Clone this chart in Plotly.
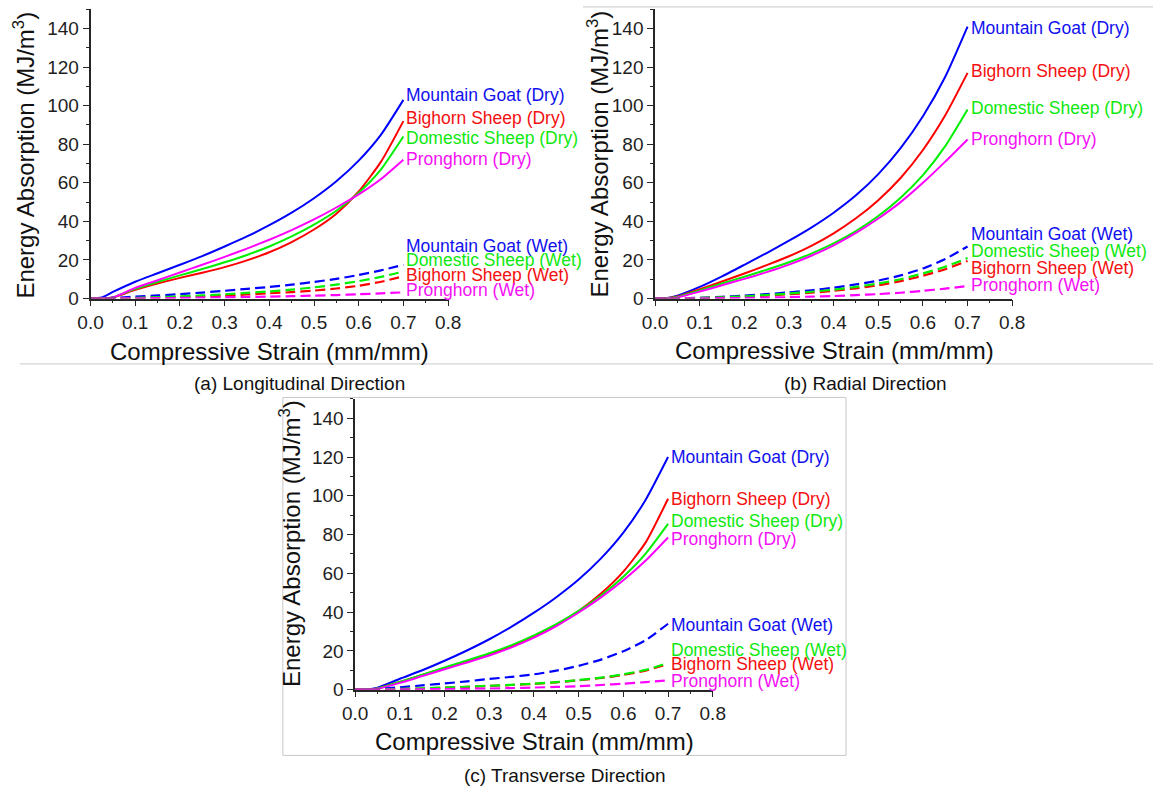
import plotly.graph_objects as go

W, H = 1166, 797

# ---------------- data ----------------
strain = [0, 0.025, 0.05, 0.1, 0.15, 0.2, 0.25, 0.3, 0.35, 0.4, 0.45, 0.5, 0.55, 0.6, 0.65, 0.7]

# (a) Longitudinal
a_mg_dry = [0, 0.5, 3.4, 8.7, 13.1, 17.5, 22, 27, 32.2, 38, 44.5, 52, 60.8, 71.5, 85, 103]
a_bs_dry = [0, 0, 0.5, 4.5, 7.8, 10.7, 13.4, 16.3, 19.8, 24, 29.3, 35.8, 44, 55.5, 71, 92]
a_ds_dry = [0, 0, 0.6, 5.0, 8.6, 12, 15.3, 18.8, 22.6, 27, 32.2, 38.3, 45.5, 54.8, 67, 84]
a_ph_dry = [0, 0, 0.5, 5.5, 9.5, 13.5, 17.5, 21.6, 25.9, 30.5, 35.5, 41, 47.2, 54, 62, 72]
a_mg_wet = [0, 0, 0.3, 1, 1.6, 2.3, 3.1, 4, 5, 6, 7.2, 8.6, 10.2, 12.2, 14.6, 17.5]
a_ds_wet = [0, 0, 0, 0.3, 0.7, 1.1, 1.6, 2.2, 2.9, 3.7, 4.6, 5.8, 7.2, 9, 11.2, 14]
a_bs_wet = [0, 0, 0, 0.2, 0.4, 0.7, 1.1, 1.5, 2.1, 2.7, 3.3, 4.1, 5.2, 6.6, 8.7, 11.5]
a_ph_wet = [0, 0, 0, 0.1, 0.2, 0.3, 0.45, 0.6, 0.8, 1, 1.2, 1.5, 1.8, 2.2, 2.7, 3.2]

# (b) Radial
b_mg_dry = [0, 0.2, 1.5, 6, 11.5, 17.5, 23.6, 30, 36.8, 44.5, 53.5, 64.5, 78, 94.5, 115, 141]
b_bs_dry = [0, 0.1, 1.0, 4.8, 8.8, 13, 17.3, 21.9, 27.3, 33.8, 41.6, 51, 62.5, 77, 95, 117]
b_ds_dry = [0, 0.1, 0.8, 4.2, 7.8, 11.3, 14.9, 18.8, 23.3, 28.6, 35, 42.8, 52.3, 64, 79, 98]
b_ph_dry = [0, 0, 0.6, 3.6, 6.9, 10.2, 13.7, 17.6, 22.2, 27.6, 34, 41.5, 50, 60, 71, 82.5]
b_mg_wet = [0, 0, 0.1, 0.4, 0.9, 1.5, 2.3, 3.2, 4.3, 5.6, 7.3, 9.3, 12, 15.6, 20.5, 27]
b_ds_wet = [0, 0, 0, 0.3, 0.6, 1.1, 1.8, 2.6, 3.5, 4.6, 6, 7.8, 10, 13, 16.5, 21]
b_bs_wet = [0, 0, 0, 0.2, 0.5, 0.9, 1.5, 2.2, 3, 4, 5.3, 6.9, 9, 11.8, 15.2, 19.5]
b_ph_wet = [0, 0, 0, 0.1, 0.2, 0.3, 0.5, 0.7, 1, 1.3, 1.8, 2.3, 3, 4, 5.1, 6.5]

# (c) Transverse
c_mg_dry = [0, 0.1, 1, 5.6, 10, 14.9, 20.2, 26, 32.5, 39.7, 47.7, 56.8, 67.7, 81, 98, 120]
c_bs_dry = [0, 0, 0.6, 4, 7.6, 11.1, 14.5, 18.1, 22.3, 27.3, 33.3, 40.6, 49.6, 60.9, 76, 98.5]
c_ds_dry = [0, 0, 0.6, 4, 7.7, 11.4, 15, 18.8, 23, 28, 33.8, 40.6, 48.6, 58.3, 70.2, 85.5]
c_ph_dry = [0, 0, 0.5, 3.5, 7, 10.5, 14, 17.6, 21.8, 26.8, 32.8, 39.8, 47.6, 56.4, 66.6, 78.5]
c_mg_wet = [0, 0, 0.3, 1.2, 2.2, 3.2, 4.3, 5.5, 6.6, 7.9, 9.8, 12.3, 15.5, 19.8, 25.5, 34]
c_ds_wet = [0, 0, 0, 0.4, 0.7, 1.1, 1.5, 2, 2.5, 3.1, 3.9, 5, 6.2, 7.9, 10.2, 13.8]
c_bs_wet = [0, 0, 0, 0.3, 0.6, 1, 1.4, 1.9, 2.4, 3, 3.8, 4.8, 6, 7.6, 9.8, 13.3]
c_ph_wet = [0, 0, 0, 0.1, 0.2, 0.3, 0.45, 0.6, 0.8, 1.1, 1.4, 1.8, 2.4, 3.1, 3.9, 4.8]

series_names = ["Mountain Goat", "Bighorn Sheep", "Domestic Sheep", "Pronghorn"]
x_ticks = [0.0, 0.1, 0.2, 0.3, 0.4, 0.5, 0.6, 0.7, 0.8]
y_ticks = [0, 20, 40, 60, 80, 100, 120, 140]
captions = ["(a) Longitudinal Direction", "(b) Radial Direction", "(c) Transverse Direction"]

# ---------------- styles / layout positions ----------------
colors = {"Mountain Goat": "#0000FF", "Bighorn Sheep": "#FF0000",
          "Domestic Sheep": "#00F000", "Pronghorn": "#FF00FF"}
label_colors = {"Mountain Goat": "#1010EE", "Bighorn Sheep": "#F41010",
                "Domestic Sheep": "#10E810", "Pronghorn": "#F410F4"}

panels = [
    dict(dry=[a_mg_dry, a_bs_dry, a_ds_dry, a_ph_dry],
         wet=[a_mg_wet, a_bs_wet, a_ds_wet, a_ph_wet],
         lab_dry=[105.7, 93.4, 83.2, 72.4], lab_wet=[27, 12.1, 19.8, 4.5],
         xpx=(79.3, 445), ypx=(302.7, 9.4),
         ytitle=(11, 157), xtitle=(262, 356), cap=(293, 389)),
    dict(dry=[b_mg_dry, b_bs_dry, b_ds_dry, b_ph_dry],
         wet=[b_mg_wet, b_bs_wet, b_ds_wet, b_ph_wet],
         lab_dry=[140.5, 118, 99, 82.5], lab_wet=[33.6, 15.7, 24.4, 7.0],
         xpx=(656.7, 1022), ypx=(302.7, 9.4),
         ytitle=(598, 156), xtitle=(840, 355), cap=(872, 389)),
    dict(dry=[c_mg_dry, c_bs_dry, c_ds_dry, c_ph_dry],
         wet=[c_mg_wet, c_bs_wet, c_ds_wet, c_ph_wet],
         lab_dry=[120.2, 98.5, 87, 77.7], lab_wet=[33.6, 13.2, 20.5, 4.7],
         xpx=(350, 715.7), ypx=(699.3, 404.5),
         ytitle=(284, 551), xtitle=(533, 752), cap=(565, 786)),
]

def px(x):
    return x / W

def py(y):
    return 1 - y / H

FONT = "Arial, Liberation Sans, sans-serif"
fig = go.Figure()
annotations = []
layout = {}

for i, p in enumerate(panels):
    n = "" if i == 0 else str(i + 1)
    xa, ya = "x" + n, "y" + n
    for k, name in enumerate(series_names):
        fig.add_trace(go.Scatter(x=strain, y=p["dry"][k], mode="lines", name=name + " (Dry)",
                                 line=dict(color=colors[name], width=2, shape="spline", smoothing=0.6),
                                 xaxis=xa, yaxis=ya, showlegend=False))
    for k, name in enumerate(series_names):
        fig.add_trace(go.Scatter(x=strain, y=p["wet"][k], mode="lines", name=name + " (Wet)",
                                 line=dict(color=colors[name], width=2.2, dash="10px,5px",
                                           shape="spline", smoothing=0.6),
                                 xaxis=xa, yaxis=ya, showlegend=False))
    for k, name in enumerate(series_names):
        for cond, ly in (("Dry", p["lab_dry"][k]), ("Wet", p["lab_wet"][k])):
            annotations.append(dict(x=strain[-1], y=ly, xref=xa, yref=ya,
                                    text=f"{name} ({cond})", showarrow=False,
                                    xanchor="left", yanchor="middle", xshift=1,
                                    font=dict(family=FONT, size=17.5, color=label_colors[name])))
    axcommon = dict(showline=True, linecolor="#262626", linewidth=1.6, ticks="outside",
                    ticklen=6, tickwidth=1.4, tickcolor="#262626", showgrid=False, zeroline=False,
                    tickfont=dict(family=FONT, size=19, color="#1e1e1e"))
    layout["xaxis" + n] = dict(axcommon, domain=[px(p["xpx"][0]), px(p["xpx"][1])],
                               range=[0, 0.8], tickvals=x_ticks, ticktext=[f"{v:.1f}" for v in x_ticks],
                               anchor=ya,
                               minor=dict(dtick=0.05, tick0=0, ticks="outside", ticklen=3,
                                          tickwidth=1.2, tickcolor="#262626"))
    layout["yaxis" + n] = dict(axcommon, domain=[py(p["ypx"][0]), py(p["ypx"][1])],
                               range=[0, 150], tickvals=y_ticks, anchor=xa,
                               minor=dict(dtick=10, tick0=0, ticks="outside", ticklen=3,
                                          tickwidth=1.2, tickcolor="#262626"))
    annotations.append(dict(x=px(p["ytitle"][0]), y=py(p["ytitle"][1]), xref="paper", yref="paper",
                            text="Energy Absorption (MJ/m<sup>3</sup>)", textangle=-90,
                            showarrow=False, xanchor="center", yanchor="middle",
                            font=dict(family=FONT, size=24, color="#111111")))
    annotations.append(dict(x=px(p["xtitle"][0]), y=py(p["xtitle"][1]), xref="paper", yref="paper",
                            text="Compressive Strain (mm/mm)", showarrow=False,
                            xanchor="center", yanchor="middle",
                            font=dict(family=FONT, size=24, color="#111111")))
    annotations.append(dict(x=px(p["cap"][0]), y=py(p["cap"][1]), xref="paper", yref="paper",
                            text=captions[i], showarrow=False, xanchor="center", yanchor="middle",
                            font=dict(family=FONT, size=19, color="#111111")))

border = dict(color="#c8c8c8", width=1)
shapes = [
    dict(type="line", xref="paper", yref="paper", x0=px(7), x1=px(1166), y0=py(369), y1=py(369), line=border),
    dict(type="line", xref="paper", yref="paper", x0=px(583), x1=px(1166), y0=py(7), y1=py(7), line=border),
    dict(type="rect", xref="paper", yref="paper", x0=px(276), x1=px(852), y0=py(766), y1=py(403), line=border),
]

fig.update_layout(width=W, height=H, margin=dict(l=0, r=0, t=0, b=0),
                  paper_bgcolor="white", plot_bgcolor="white",
                  annotations=annotations, shapes=shapes, **layout)
fig.write_html("out.html", include_plotlyjs=True, config={"displayModeBar": False})
